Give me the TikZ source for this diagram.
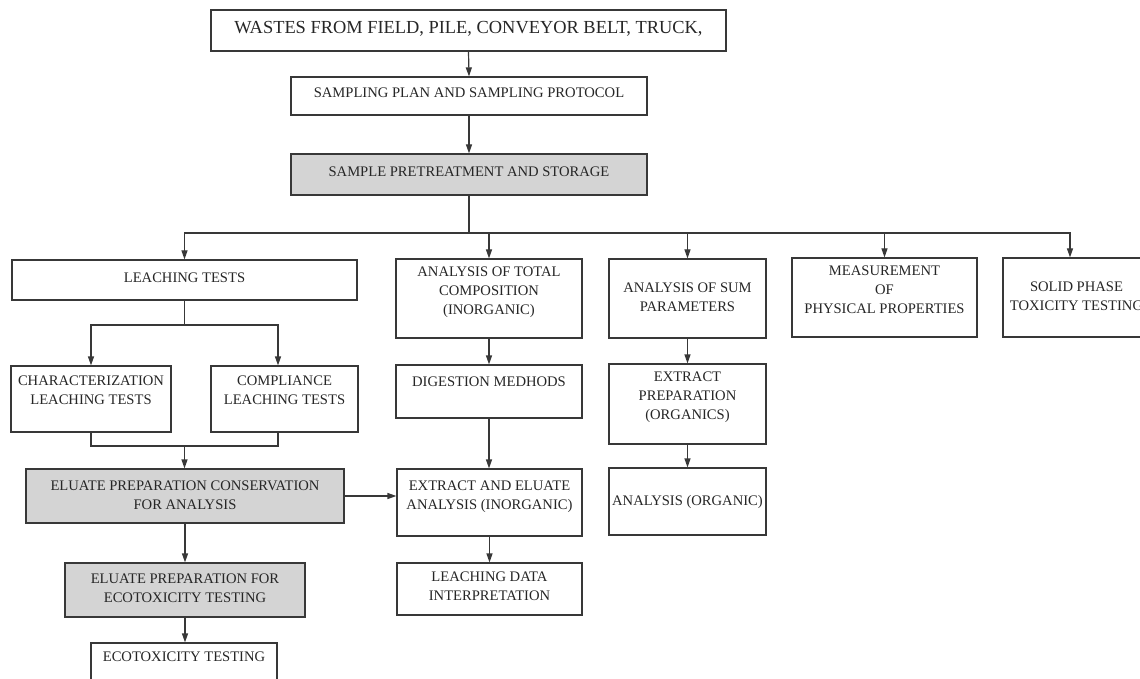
\documentclass[tikz,border=0pt]{standalone}
\usepackage{fontspec}
\setmainfont{Liberation Serif}
\usetikzlibrary{arrows.meta}
\definecolor{lc}{gray}{0.22}
\definecolor{fillg}{gray}{0.83}
\newcommand{\bt}[2][0pt]{\begin{tabular}{@{}c@{}}#2\\[#1]\end{tabular}}
\begin{document}
\begin{tikzpicture}[x=0.5pt,y=-0.5pt,
  box/.style={draw=lc, line width=0.6pt, fill=white, inner sep=0pt, text=black!85,
              font=\fontsize{7.3}{9.5}\selectfont},
  gbox/.style={box, fill=fillg},
  wire/.style={draw=lc, line width=0.6pt},
  arr/.style={wire, -{Triangle[length=4.5pt,width=3pt]}}]
\useasboundingbox (0,0) rectangle (1140,679);
\clip (0,0) rectangle (1140,679);
\fill[white] (0,0) rectangle (1140,679);

% top chain
\node[box, minimum width=257.5pt, minimum height=20.5pt, font=\fontsize{9.2}{11}\selectfont] (B1) at (468.5,30.5)
  {\bt[1.5pt]{WASTES FROM FIELD, PILE, CONVEYOR BELT, TRUCK,}};
\node[box, minimum width=178pt, minimum height=19pt] (B2) at (469,96)
  {\bt[2pt]{SAMPLING PLAN AND SAMPLING PROTOCOL}};
\node[gbox, minimum width=178pt, minimum height=20.5pt] (B3) at (469,174.5)
  {\bt[1.5pt]{SAMPLE PRETREATMENT AND STORAGE}};

% second row
\node[box, minimum width=172.5pt, minimum height=20pt] (L) at (184.5,280)
  {\bt[1pt]{LEACHING TESTS}};
\node[box, minimum width=93pt, minimum height=39.5pt] (T) at (489,298.5)
  {\bt[6.5pt]{ANALYSIS OF TOTAL\\COMPOSITION\\(INORGANIC)}};
\node[box, minimum width=78.5pt, minimum height=39.5pt] (S) at (687.5,298.5)
  {\bt{ANALYSIS OF SUM\\PARAMETERS}};
\node[box, minimum width=92.5pt, minimum height=39.5pt] (M) at (884.5,297.5)
  {\bt[6.5pt]{MEASUREMENT\\OF\\PHYSICAL PROPERTIES}};
\node[box, minimum width=73.5pt, minimum height=39.5pt] (P) at (1076.5,297.5)
  {\bt{SOLID PHASE\\TOXICITY TESTING}};

% third row
\node[box, minimum width=80pt, minimum height=33pt] (C) at (91,399)
  {\bt[8pt]{CHARACTERIZATION\\LEACHING TESTS}};
\node[box, minimum width=73.5pt, minimum height=33pt] (CO) at (284.5,399)
  {\bt[8pt]{COMPLIANCE\\LEACHING TESTS}};
\node[box, minimum width=93pt, minimum height=26.5pt] (D) at (489,391.5)
  {\bt[8.5pt]{DIGESTION MEDHODS}};
\node[box, minimum width=78.5pt, minimum height=40pt] (EP) at (687.5,404)
  {\bt[7pt]{EXTRACT\\PREPARATION\\(ORGANICS)}};

% fourth row
\node[gbox, minimum width=159pt, minimum height=27pt] (E1) at (185,496)
  {\bt{ELUATE PREPARATION CONSERVATION\\FOR ANALYSIS}};
\node[box, minimum width=92.5pt, minimum height=33.5pt] (X) at (489.5,502.5)
  {\bt[6.5pt]{EXTRACT AND ELUATE\\ANALYSIS (INORGANIC)}};
\node[box, minimum width=78.5pt, minimum height=33.5pt] (AO) at (687.5,501.5)
  {\bt{ANALYSIS (ORGANIC)}};

% bottom
\node[box, minimum width=92.5pt, minimum height=26pt] (LD) at (489.5,589)
  {\bt[2pt]{LEACHING DATA\\INTERPRETATION}};
\node[gbox, minimum width=120pt, minimum height=27pt] (E2) at (185,590)
  {\bt[0.5pt]{ELUATE PREPARATION FOR\\ECOTOXICITY TESTING}};
\node[box, minimum width=93pt, minimum height=30pt] (ECO) at (184,673)
  {\bt[15pt]{ECOTOXICITY TESTING}};

% connectors
\draw[arr] (B1.south) -- (B2.north);
\draw[arr] (B2.south) -- (B3.north);
\coordinate (J) at (469,233);
\draw[wire] (B3.south) -- (J);
\draw[arr] (J) -| (L.north);
\draw[arr] (J) -| (T.north);
\draw[arr] (J) -| (S.north);
\draw[arr] (J) -| (M.north);
\draw[arr] (J) -| ([xshift=-3.25pt]P.north);

\coordinate (LJ) at (184.5,325);
\draw[wire] (L.south) -- (LJ);
\draw[arr] (LJ) -| (C.north);
\draw[arr] (LJ) -| ([xshift=-3.25pt]CO.north);

\coordinate (K) at (184.5,446);
\draw[wire] (C.south) |- (K) -| ([xshift=-3.25pt]CO.south);
\draw[arr] (K) -- (K |- E1.north);

\draw[arr] (E1.east) -- (E1.east -| X.west);
\draw[arr] (E1.south) -- (E2.north);
\draw[arr] (E2.south) -- (E2.south |- ECO.north);

\draw[arr] (T.south) -- (D.north);
\draw[arr] (D.south) -- (D.south |- X.north);
\draw[arr] (X.south) -- (LD.north);

\draw[arr] (S.south) -- (EP.north);
\draw[arr] (EP.south) -- (AO.north);
\end{tikzpicture}
\end{document}
